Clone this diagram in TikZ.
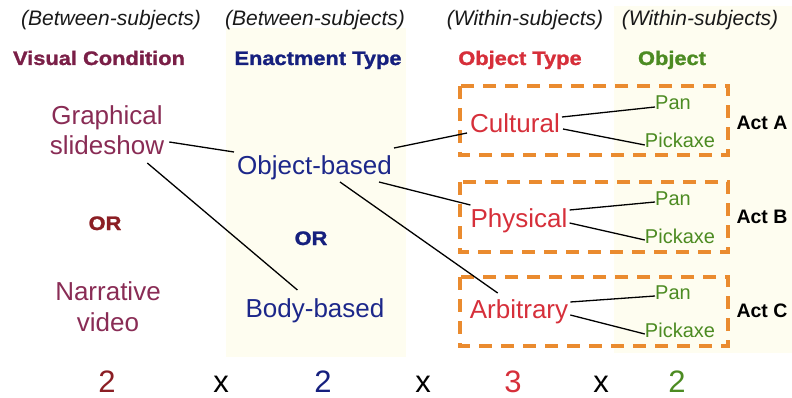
\documentclass[tikz,border=0pt]{standalone}
\usepackage{fontspec}
\setmainfont{Liberation Sans}
\newfontfamily\heavyfont{Liberation Sans Bold}[FakeBold=1.3, FakeStretch=1.12]
\usetikzlibrary{calc}

\definecolor{plum}{HTML}{7A1F47}
\definecolor{plumtext}{HTML}{892C55}
\definecolor{rust}{HTML}{8B1E24}
\definecolor{navy}{HTML}{16207E}
\definecolor{navytext}{HTML}{1C278A}
\definecolor{typered}{HTML}{D62F3A}
\definecolor{leaf}{HTML}{4C8B22}
\definecolor{boxorange}{HTML}{EA8B2F}
\definecolor{cream}{HTML}{FEFDF0}

\tikzset{
  txt/.style={inner sep=0pt, anchor=base},
  level/.style={txt, font=\fontsize{26}{30}\selectfont},
  design/.style={txt, font=\fontsize{21}{25}\selectfont\itshape, text=black!90},
  factor/.style={txt, font=\heavyfont\fontsize{19.5}{23}\selectfont},
  item/.style={txt, font=\fontsize{20}{24}\selectfont, text=leaf},
  actlabel/.style={txt, font=\bfseries\fontsize{19.5}{23}\selectfont, text=black},
  count/.style={txt, font=\fontsize{31}{35}\selectfont},
  link/.style={draw=black, line width=1.3pt},
  actbox/.style={draw=boxorange, line width=3.2pt, dash pattern=on 13pt off 9pt},
  panel/.style={fill=cream}
}

\begin{document}
\begin{tikzpicture}[x=1pt, y=-1pt]
\useasboundingbox (0,0) rectangle (792,398);

% shaded columns
\fill[panel] (226,28) rectangle (406,357);
\fill[panel] (614,6) rectangle (792,353);

% design of each factor
\node[design] (d1) at (111,26) {(Between-subjects)};
\node[design] (d2) at (315,26) {(Between-subjects)};
\node[design] (d3) at (525,26) {(Within-subjects)};
\node[design] (d4) at (700,26) {(Within-subjects)};

% factor names
\node[factor, text=plum]    (f1) at (99,65)  {Visual Condition};
\node[factor, text=navy]    (f2) at (318,65) {Enactment Type};
\node[factor, text=typered] (f3) at (520,65) {Object Type};
\node[factor, text=leaf]    (f4) at (672,65) {Object};

% visual condition levels
\node[level, text=plumtext] (gr) at (107,125) {Graphical};
\node[level, text=plumtext] (ss) at (107,155) {slideshow};
\node[factor, text=rust]    (or1) at (105,230) {OR};
\node[level, text=plumtext] (na) at (108,300) {Narrative};
\node[level, text=plumtext] (vi) at (108,331) {video};

% enactment levels
\node[level, text=navytext] (ob) at (314.5,175) {Object-based};
\node[factor, text=navy]    (or2) at (311,245) {OR};
\node[level, text=navytext] (bb) at (315,317) {Body-based};

% object type groups
\draw[actbox] (460,86) rectangle (728,155);
\draw[actbox] (460,182) rectangle (728,252);
\draw[actbox] (460,277) rectangle (728,346);

\node[level, text=typered] (cu) at (515,133) {Cultural};
\node[level, text=typered] (ph) at (519,227) {Physical};
\node[level, text=typered] (ar) at (519,318) {Arbitrary};

\node[item] (panA)  at (673,110) {Pan};
\node[item] (pickA) at (680,148) {Pickaxe};
\node[item] (panB)  at (673,205) {Pan};
\node[item] (pickB) at (680,243) {Pickaxe};
\node[item] (panC)  at (673,299) {Pan};
\node[item] (pickC) at (680,337) {Pickaxe};

\node[actlabel] (actA) at (762,130) {Act A};
\node[actlabel] (actB) at (762,223) {Act B};
\node[actlabel] (actC) at (762,317) {Act C};

% connections between levels
\draw[link] ($(ss.base east)+(5,-13)$) -- ($(ob.base west)+(-3,-23)$);
\draw[link] ($(ss.base east)+(-17,8)$) -- ($(bb.base west)+(52,-27)$);
\draw[link] ($(ob.base east)+(2,-27)$) -- ($(cu.base west)+(-3,0)$);
\draw[link] ($(ob.base east)+(-13,7)$) -- ($(ph.base west)+(0,-22)$);
\draw[link] ($(ob.base)+(25.5,7)$) -- ($(ar.base west)+(28,-25)$);

\draw[link] ($(cu.base east)+(2,-16)$) -- ($(panA.base west)+(0,-3)$);
\draw[link] ($(cu.base east)+(3,-4)$) -- ($(pickA.base west)+(0,-3)$);
\draw[link] ($(ph.base east)+(2,-17)$) -- ($(panB.base west)+(0,-3)$);
\draw[link] ($(ph.base east)+(2,-4)$) -- ($(pickB.base west)+(0,-3)$);
\draw[link] ($(ar.base east)+(2,-16)$) -- ($(panC.base west)+(0,-3)$);
\draw[link] ($(ar.base east)+(2,-3)$) -- ($(pickC.base west)+(0,-3)$);

% number of levels
\node[count, text=rust]    (n1) at (107,392) {2};
\node[count, text=black]   (x1) at (221,392) {x};
\node[count, text=navy]    (n2) at (323,392) {2};
\node[count, text=black]   (x2) at (423,392) {x};
\node[count, text=typered] (n3) at (513,392) {3};
\node[count, text=black]   (x3) at (601,392) {x};
\node[count, text=leaf]    (n4) at (677,392) {2};
\end{tikzpicture}
\end{document}
